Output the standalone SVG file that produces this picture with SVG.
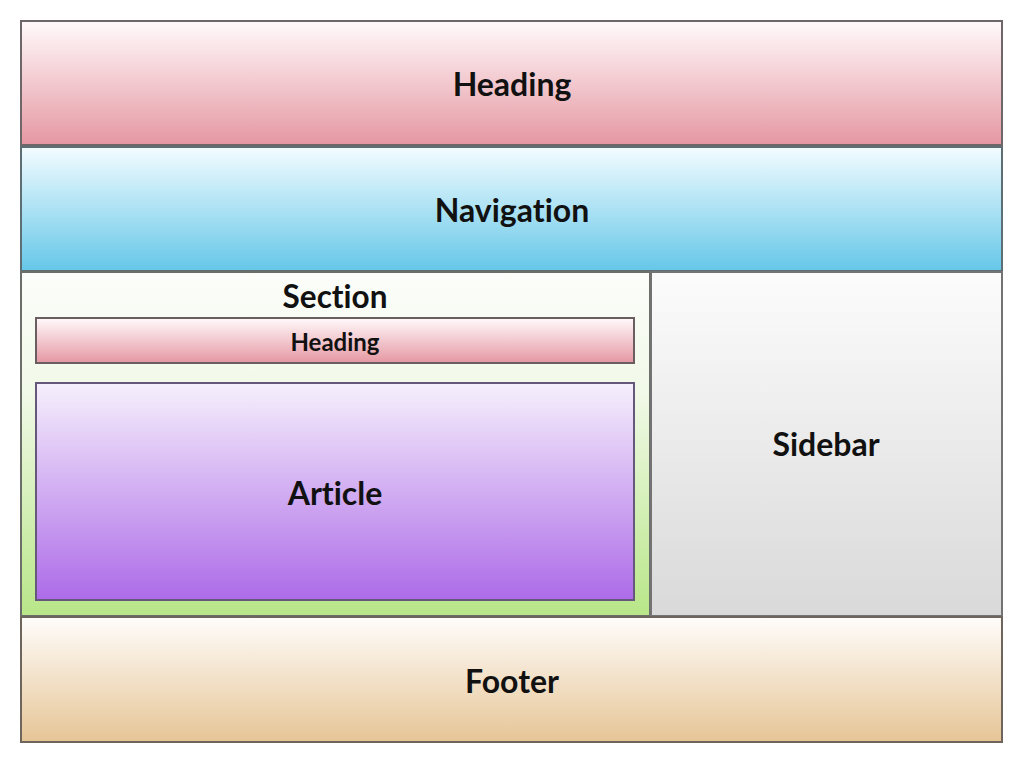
<svg xmlns="http://www.w3.org/2000/svg" width="1024" height="763" viewBox="0 0 1024 763">
<defs>
<linearGradient id="gRed" x1="0" y1="0" x2="0" y2="1"><stop offset="0" stop-color="#fffafb"/><stop offset="1" stop-color="#e597a2"/></linearGradient>
<linearGradient id="gBlue" x1="0" y1="0" x2="0" y2="1"><stop offset="0" stop-color="#f3fcff"/><stop offset="1" stop-color="#65c7e8"/></linearGradient>
<linearGradient id="gGreen" x1="0" y1="0" x2="0" y2="1"><stop offset="0" stop-color="#fcfdfa"/><stop offset="0.35" stop-color="#f1f9e8"/><stop offset="1" stop-color="#b8e688"/></linearGradient>
<linearGradient id="gGray" x1="0" y1="0" x2="0" y2="1"><stop offset="0" stop-color="#fcfcfc"/><stop offset="1" stop-color="#d9d9d9"/></linearGradient>
<linearGradient id="gPurple" x1="0" y1="0" x2="0" y2="1"><stop offset="0" stop-color="#f6f0fc"/><stop offset="1" stop-color="#ad6be8"/></linearGradient>
<linearGradient id="gTan" x1="0" y1="0" x2="0" y2="1"><stop offset="0" stop-color="#fffdfb"/><stop offset="1" stop-color="#e6c596"/></linearGradient>
</defs>
<style>
.box{stroke-width:2}
.t{font-family:Lato,"Open Sans","Liberation Sans",sans-serif;font-weight:bold;fill:#111;text-anchor:middle;dominant-baseline:central;font-variant-ligatures:none}
</style>
<rect width="1024" height="763" fill="#ffffff"/>
<g id="heading"><rect class="box" x="21" y="21" width="981" height="124" fill="url(#gRed)" stroke="#6e6668"/><text class="t" x="512" y="83" font-size="32">Heading</text></g>
<g id="navigation"><rect class="box" x="21" y="147" width="981" height="124" fill="url(#gBlue)" stroke="#5d6e74"/><text class="t" x="512" y="209" font-size="32">Navigation</text></g>
<g id="section"><rect class="box" x="21" y="272" width="629" height="344" fill="url(#gGreen)" stroke="#6c6f69"/><text class="t" x="335" y="296" font-size="31.5">Section</text></g>
<g id="sidebar"><rect class="box" x="651" y="272" width="351" height="344" fill="url(#gGray)" stroke="#737373"/><text class="t" x="826" y="443" font-size="32">Sidebar</text></g>
<g id="section-heading"><rect class="box" x="36" y="318" width="598" height="45" fill="url(#gRed)" stroke="#6a5e61"/><text class="t" x="335" y="341" font-size="24">Heading</text></g>
<g id="article"><rect class="box" x="36" y="383" width="598" height="217" fill="url(#gPurple)" stroke="#65587a"/><text class="t" x="335" y="492" font-size="32">Article</text></g>
<g id="footer"><rect class="box" x="21" y="617" width="981" height="125" fill="url(#gTan)" stroke="#6e665c"/><text class="t" x="512" y="680" font-size="32">Footer</text></g>
<g id="connectors"/>
</svg>
